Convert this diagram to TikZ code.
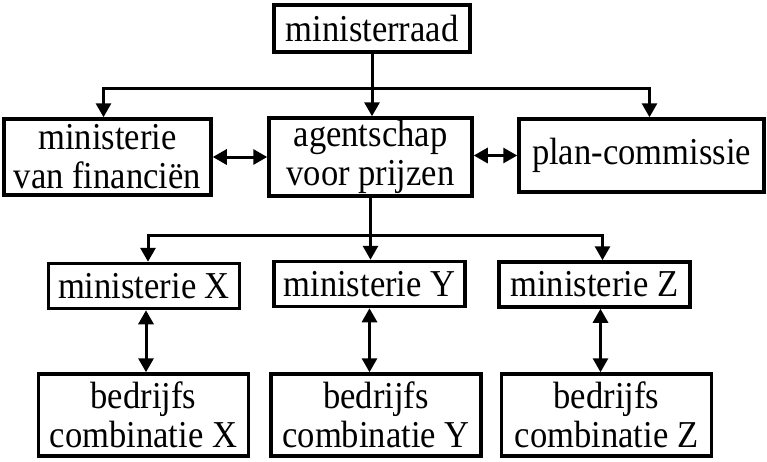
\documentclass[tikz,border=0pt]{standalone}
\usepackage{fontspec}
\setmainfont{Liberation Serif}[FakeStretch=0.91]
\usetikzlibrary{arrows.meta,positioning,calc}
\tikzset{
  >={Triangle[length=14pt,width=15pt]},
  unit/.style={draw,line width=3.5pt,inner sep=0pt,align=center,
    font=\fontsize{38}{39}\selectfont,minimum width=#1},
  unit/.default=190pt,
  link/.style={line width=3pt},
}
\begin{document}
\begin{tikzpicture}[x=1pt,y=-1pt]
    \useasboundingbox (0,0) rectangle (767,461);
    % top level
    \node[unit=196pt,minimum height=47pt] (raad) at (372,28.5) {ministerraad};
    \node[unit=207pt,minimum height=76pt] (fin) at (107.5,157) {ministerie\\van financiën};
    \node[unit=203pt,minimum height=78pt] (agent) at (370.5,157) {agentschap\\voor prijzen};
    \node[unit=245pt,minimum height=73pt] (plan) at (641.5,155.5) {plan-commissie};
    % ministries and combinations
    \foreach \k/\mx/\my/\bx in {X/144/286/143.5,Y/369.5/284/376,Z/594.5/284.5/606.5}{
      \node[unit=191pt,minimum height=45pt] (min\k) at (\mx,\my) {ministerie \k};
      \node[unit=210pt,minimum height=82pt] (comb\k) at (\bx,415) {bedrijfs\\combinatie \k};
    }
    % connectors
    \coordinate (barA) at (371,88);
    \coordinate (barB) at (370,235);
    \draw[link,->] (raad) -- (raad |- agent.north);
    \draw[link,->] (barA) -| ([xshift=-4pt]fin.north);
    \draw[link,->] (barA) -| ([xshift=8pt]plan.north);
    \draw[link,<->] (fin) -- (agent);
    \draw[link,<->] (agent.east |- plan) -- (plan);
    \draw[link,->] (agent) -- (agent |- minY.north);
    \draw[link,->] (barB) -| ([xshift=4pt]minX.north);
    \draw[link,->] (barB) -| ([xshift=8pt]minZ.north);
    \draw[link,<->] ([xshift=2pt]minX.south) -- ([xshift=2pt]minX.south |- combX.north);
    \draw[link,<->] (minY.south) -- (minY.south |- combY.north);
    \draw[link,<->] ([xshift=6pt]minZ.south) -- ([xshift=6pt]minZ.south |- combZ.north);
\end{tikzpicture}
\end{document}
